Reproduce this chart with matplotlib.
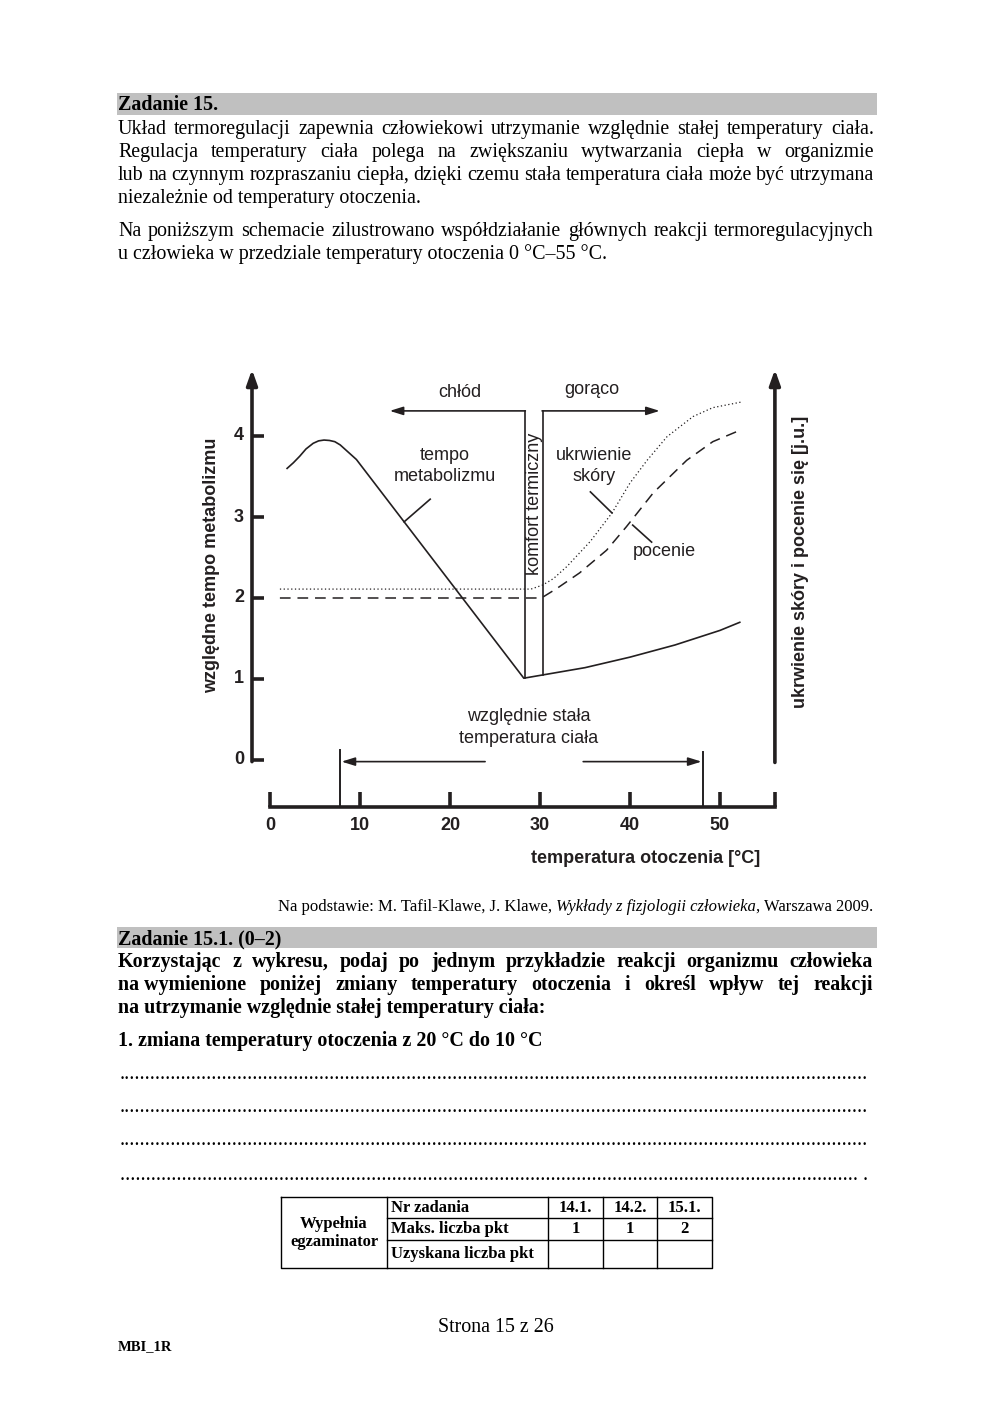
import matplotlib
matplotlib.use('Agg')
import matplotlib.pyplot as plt

# ---------------- data ----------------
temp_ticks = [0, 10, 20, 30, 40, 50]
temp_labels = ['0', '10', '20', '30', '40', '50']
metab_ticks = [0, 1, 2, 3, 4]
metab_labels = ['0', '1', '2', '3', '4']

# tempo metabolizmu (solid)
metab_T = [1.9, 2.6, 3.3, 4.0, 4.8, 5.4, 6.0, 6.6, 7.2, 7.8, 8.4, 9.0, 9.6, 28.2,
           30.3, 35.0, 40.0, 45.0, 50.0, 52.2]
metab_v = [3.60, 3.67, 3.75, 3.84, 3.91, 3.94, 3.95, 3.945, 3.93, 3.89, 3.83, 3.77, 3.71, 1.01,
           1.05, 1.14, 1.27, 1.42, 1.60, 1.70]

# ukrwienie skory (dotted)
skin_T = [1.1, 29.0, 30.3, 31.5, 33.0, 35.6, 38.0, 40.0, 41.9, 44.1, 47.0, 49.2, 52.4]
skin_v = [2.11, 2.11, 2.16, 2.24, 2.39, 2.70, 3.05, 3.42, 3.70, 3.99, 4.24, 4.35, 4.42]

# pocenie (dashed)
sweat_T = [1.1, 29.5, 30.3, 31.9, 34.4, 37.4, 39.6, 42.6, 46.3, 49.2, 52.2]
sweat_v = [2.00, 2.00, 2.01, 2.12, 2.31, 2.59, 2.88, 3.30, 3.70, 3.93, 4.07]

comfort_low, comfort_high = 28.3, 30.3
stable_low, stable_high = 7.8, 48.1

INK = '#231f20'
SERIF = 'Liberation Serif'
SANS = 'Liberation Sans'

fig = plt.figure(figsize=(9.93, 14.04), dpi=100)
fig.patch.set_facecolor('white')

# ---------------- page layer (pixel coordinates) ----------------
pg = fig.add_axes([0, 0, 1, 1])
pg.set_xlim(0, 993)
pg.set_ylim(1404, 0)
pg.axis('off')
renderer = fig.canvas.get_renderer()


def justify(text, x0, x1, y, **kw):
    words = [w.replace('~', ' ') for w in text.split(' ')]
    objs = [pg.text(0, y, w, va='baseline', ha='left', **kw) for w in words]
    widths = [o.get_window_extent(renderer).width for o in objs]
    gap = (x1 - x0 - sum(widths)) / max(len(words) - 1, 1)
    x = x0
    for o, w in zip(objs, widths):
        o.set_x(x)
        x += w + gap


body = dict(family=SERIF, fontsize=14.4, color='black')
bold = dict(family=SERIF, fontsize=14.4, color='black', fontweight='bold')

# header bar 1
pg.add_patch(plt.Rectangle((117, 93), 760, 22, color='#c0c0c0', lw=0))
pg.text(118, 110, 'Zadanie 15.', va='baseline', **bold)

justify('Układ termoregulacji zapewnia człowiekowi utrzymanie względnie stałej temperatury ciała.',
        118, 874, 134, **body)
justify('Regulacja temperatury ciała polega na zwiększaniu wytwarzania ciepła w organizmie',
        118, 874, 157, **body)
justify('lub na czynnym rozpraszaniu ciepła, dzięki czemu stała temperatura ciała może być utrzymana',
        118, 874, 180, **body)
pg.text(118, 203, 'niezależnie od temperatury otoczenia.', va='baseline', **body)
justify('Na poniższym schemacie zilustrowano współdziałanie głównych reakcji termoregulacyjnych',
        118, 874, 236, **body)
pg.text(118, 259, 'u człowieka w przedziale temperatury otoczenia 0 °C–55 °C.', va='baseline', **body)

# source line (right aligned, mixed italic)
src_parts = [('Na podstawie: M. Tafil-Klawe, J. Klawe, ', 'normal'),
             ('Wykłady z fizjologii człowieka', 'italic'),
             (', Warszawa 2009.', 'normal')]
xr = 873
for txt, style in reversed(src_parts):
    t = pg.text(xr, 911, txt, ha='right', va='baseline', family=SERIF, fontsize=12,
                style=style, color='black')
    xr -= t.get_window_extent(renderer).width

# header bar 2
pg.add_patch(plt.Rectangle((117, 927), 760, 21, color='#c0c0c0', lw=0))
pg.text(118, 944, 'Zadanie 15.1. (0–2)', va='baseline', **bold)
justify('Korzystając z wykresu, podaj po jednym przykładzie reakcji organizmu człowieka',
        118, 873, 967, **bold)
justify('na~wymienione poniżej zmiany temperatury otoczenia i określ wpływ tej reakcji',
        118, 873, 990, **bold)
pg.text(118, 1013, 'na utrzymanie względnie stałej temperatury ciała:', va='baseline', **bold)
pg.text(118, 1046, '1. zmiana temperatury otoczenia z 20 °C do 10 °C', va='baseline', **bold)

# answer dotted lines
probe = pg.text(0, -100, '.' * 100, **body)
dot_w = probe.get_window_extent(renderer).width / 100
probe.remove()
n_dots = int(round(750 / dot_w))
for i, yy in enumerate([1079, 1112, 1145, 1180]):
    s = '.' * n_dots if i < 3 else '.' * (n_dots - 2) + ' .'
    pg.text(120, yy, s, va='baseline', **body)

# table
tb = dict(color='black', lw=1.0)
tx0, tx1, ty0, ty1 = 281, 712, 1197, 1268
cols = [387, 548, 603, 657]
rows = [1218, 1240]
pg.plot([tx0, tx1, tx1, tx0, tx0], [ty0, ty0, ty1, ty1, ty0], **tb)
for c in cols:
    pg.plot([c, c], [ty0, ty1], **tb)
for r in rows:
    pg.plot([cols[0], tx1], [r, r], **tb)
tfont = dict(family=SERIF, fontsize=12, fontweight='bold', color='black')
pg.text(334, 1233, 'Wypełnia\negzaminator', ha='center', va='center', linespacing=1.25, **tfont)
pg.text(391, 1208, 'Nr zadania', ha='left', va='center', **tfont)
pg.text(391, 1229, 'Maks. liczba pkt', ha='left', va='center', **tfont)
pg.text(391, 1254, 'Uzyskana liczba pkt', ha='left', va='center', **tfont)
for cx, h, m in zip([575.5, 630, 684.5], ['14.1.', '14.2.', '15.1.'], ['1', '1', '2']):
    pg.text(cx, 1208, h, ha='center', va='center', **tfont)
    pg.text(cx, 1229, m, ha='center', va='center', **tfont)

# footer
pg.text(496, 1328, 'Strona 15 z 26', ha='center', va='center', family=SERIF, fontsize=14.4, color='black')
pg.text(118, 1347, 'MBI_1R', ha='left', va='center', family=SERIF, fontsize=10.5, fontweight='bold',
        color='black')

# ---------------- chart ----------------
# x pixel = 270 + 9*T ; y pixel = 760 - 81*v
xl, xh = -3, 58
yl, yh = -1.5, 5
left_px = 270 + 9 * xl
right_px = 270 + 9 * xh
bot_px = 760 - 81 * yl
top_px = 760 - 81 * yh
ax = fig.add_axes([left_px / 993, 1 - bot_px / 1404, (right_px - left_px) / 993, (bot_px - top_px) / 1404])
ax.set_xlim(xl, xh)
ax.set_ylim(yl, yh)
ax.axis('off')
ax.patch.set_alpha(0)

AXLW = 2.6
yaxis_T = -2.0
raxis_T = 56.1
xaxis_v = -0.58

# left y axis with arrow
ax.annotate('', xy=(yaxis_T, 4.82), xytext=(yaxis_T, -0.02),
            arrowprops=dict(arrowstyle='-|>,head_length=0.9,head_width=0.32', lw=AXLW, color=INK,
                            shrinkA=0, shrinkB=0))
for v, lab in zip(metab_ticks, metab_labels):
    ax.plot([yaxis_T, yaxis_T + 1.3], [v, v], color=INK, lw=AXLW, solid_capstyle='butt')
    ax.text(yaxis_T - 0.9, v, lab, ha='right', va='center', family=SANS, fontsize=13,
            fontweight='bold', color=INK)
ax.text(-6.5, 2.4, 'względne tempo metabolizmu', rotation=90, ha='center', va='center',
        family=SANS, fontsize=13, fontweight='bold', color=INK)

# right y axis with arrow
ax.annotate('', xy=(raxis_T, 4.82), xytext=(raxis_T, -0.03),
            arrowprops=dict(arrowstyle='-|>,head_length=0.9,head_width=0.32', lw=AXLW, color=INK,
                            shrinkA=0, shrinkB=0))
ax.text(58.9, 2.45, 'ukrwienie skóry i pocenie się [j.u.]', rotation=90, ha='center', va='center',
        family=SANS, fontsize=13, fontweight='bold', color=INK)

# x axis
ax.plot([0, raxis_T], [xaxis_v, xaxis_v], color=INK, lw=AXLW, solid_capstyle='projecting')
for T in temp_ticks + [raxis_T]:
    ax.plot([T, T], [xaxis_v, xaxis_v + 0.18], color=INK, lw=AXLW, solid_capstyle='butt')
for T, lab in zip(temp_ticks, temp_labels):
    ax.text(T, -0.81, lab, ha='center', va='center', family=SANS, fontsize=13,
            fontweight='bold', color=INK)
ax.text(41.7, -1.21, 'temperatura otoczenia [°C]', ha='center', va='center', family=SANS,
        fontsize=13, fontweight='bold', color=INK)

# curves
ax.plot(metab_T, metab_v, color=INK, lw=1.2, solid_joinstyle='round')
ax.plot(skin_T, skin_v, color=INK, lw=0.9, linestyle=(0, (1, 2)))
ax.plot(sweat_T, sweat_v, color=INK, lw=1.1, linestyle=(0, (7, 4.5)))

# comfort zone bracket
ctop = 4.31
ax.plot([comfort_low, comfort_low], [1.01, ctop], color=INK, lw=1.2)
ax.plot([comfort_high, comfort_high], [1.05, ctop], color=INK, lw=1.2)
ax.annotate('', xy=(13.3, ctop), xytext=(comfort_low + 0.07, ctop),
            arrowprops=dict(arrowstyle='-|>,head_length=0.8,head_width=0.25', lw=1.2, color=INK,
                            shrinkA=0, shrinkB=0))
ax.annotate('', xy=(43.3, ctop), xytext=(comfort_high - 0.07, ctop),
            arrowprops=dict(arrowstyle='-|>,head_length=0.8,head_width=0.25', lw=1.2, color=INK,
                            shrinkA=0, shrinkB=0))
lab = dict(family=SANS, fontsize=13, color=INK)
ax.text(21.1, 4.54, 'chłód', ha='center', va='center', **lab)
ax.text(35.8, 4.57, 'gorąco', ha='center', va='center', **lab)
ax.text(29.35, 3.16, 'komfort termiczny', rotation=90, ha='center', va='center', **lab)

# curve labels with leader lines
ax.text(19.4, 3.63, 'tempo\nmetabolizmu', ha='center', va='center', linespacing=1.3, **lab)
ax.plot([17.8, 14.9], [3.22, 2.94], color=INK, lw=1.2)
ax.text(36.0, 3.63, 'ukrwienie\nskóry', ha='center', va='center', linespacing=1.3, **lab)
ax.plot([35.6, 38.0], [3.31, 3.05], color=INK, lw=1.2)
ax.text(43.8, 2.57, 'pocenie', ha='center', va='center', **lab)
ax.plot([40.3, 42.4], [2.9, 2.69], color=INK, lw=1.2)

# relatively constant body temperature range
ax.text(28.7, 0.40, 'względnie stała\ntemperatura ciała', ha='center', va='center',
        linespacing=1.35, **lab)
ax.plot([stable_low, stable_low], [0.12, xaxis_v], color=INK, lw=1.4)
ax.plot([stable_high, stable_high], [0.10, xaxis_v], color=INK, lw=1.4)
ax.annotate('', xy=(stable_low + 0.15, -0.02), xytext=(23.9, -0.02),
            arrowprops=dict(arrowstyle='-|>,head_length=0.8,head_width=0.25', lw=1.2, color=INK,
                            shrinkA=0, shrinkB=0))
ax.annotate('', xy=(stable_high - 0.15, -0.02), xytext=(34.8, -0.02),
            arrowprops=dict(arrowstyle='-|>,head_length=0.8,head_width=0.25', lw=1.2, color=INK,
                            shrinkA=0, shrinkB=0))

fig.savefig('out.png', dpi=100, facecolor='white')
